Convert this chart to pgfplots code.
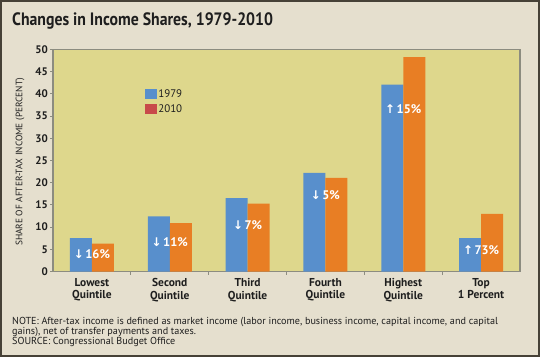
\documentclass[border=0pt]{standalone}
\usepackage{pgfplots}
\pgfplotsset{compat=1.18}
\usepackage{fontspec}
\setmainfont{PT Sans}
\newfontfamily\arrowfont{DejaVu Sans}
\newfontfamily\titlefont[FakeStretch=0.88]{PT Sans}
\definecolor{bgc}{RGB}{229,223,206}
\definecolor{plotc}{RGB}{222,215,140}
\definecolor{bluec}{RGB}{88,143,204}
\definecolor{orangec}{RGB}{232,126,36}
\definecolor{redc}{RGB}{200,74,74}
\definecolor{framec}{RGB}{140,140,128}
\definecolor{textc}{RGB}{30,30,30}
\definecolor{borderc}{RGB}{70,65,55}
\pgfplotstableread{
x y1979 y2010
0 7.5 6.3
1 12.4 10.9
2 16.5 15.3
3 22.2 21.1
4 42.1 48.3
5 7.5 13.0
}\shares
\begin{document}
\begin{tikzpicture}
\useasboundingbox (0bp,0bp) rectangle (540bp,357bp);
\fill[bgc] (0bp,0bp) rectangle (540bp,357bp);
\draw[borderc, line width=2bp] (1bp,1bp) rectangle (539bp,356bp);
\node[anchor=base west, font=\titlefont\bfseries\fontsize{18}{20}\selectfont, text=textc, inner sep=0] at (12bp,331bp) {Changes in Income Shares, 1979-2010};
\begin{axis}[at={(53bp,85.5bp)}, anchor=south west, scale only axis, width=467bp, height=222bp,
  ymin=0, ymax=50, xmin=-0.5, xmax=5.5,
  /pgf/number format/assume math mode=true,
  axis background/.style={fill=plotc},
  axis line style={framec, line width=1.3bp},
  ytick={0,5,...,50}, ytick pos=left, xtick pos=bottom,
  yticklabel={\pgfmathprintnumber{\tick}},
  xtick={0.5,1.5,2.5,3.5,4.5}, xticklabels={},
  extra x ticks={0,1,2,3,4,5},
  extra x tick labels={{Lowest\\Quintile},{Second\\Quintile},{Third\\Quintile},{Fourth\\Quintile},{Highest\\Quintile},{Top\\1 Percent}},
  extra x tick style={xtick style={draw=none}, xticklabel style={font=\bfseries\fontsize{11.5}{13}\selectfont, text=textc, align=center}},
  tick align=outside, major tick length=3bp,
  tick style={framec, line width=0.8bp},
  yticklabel style={font=\bfseries\fontsize{11}{12}\selectfont, text=textc, inner sep=2bp},
  ylabel={SHARE OF AFTER-TAX INCOME (PERCENT)},
  ylabel style={at={(axis description cs:-0.0707,0.494)}, anchor=center, font=\fontsize{9.4}{12}\selectfont, text=textc},
  legend style={at={(axis description cs:0.19,0.84)}, anchor=north west, draw=none, fill=none, font=\fontsize{11}{12}\selectfont, text=textc, row sep=2bp},
  legend cell align=left,
]
\addplot[ybar, bar width=22bp, bar shift=-11bp, fill=bluec, draw=none, forget plot] table[x=x, y=y1979] {\shares};
\addplot[ybar, bar width=22bp, bar shift=11bp, fill=orangec, draw=none, forget plot] table[x=x, y=y2010] {\shares};
\addlegendimage{legend image code/.code={\fill[bluec] (0bp,-4.5bp) rectangle (11bp,4.5bp);}}
\addlegendentry{1979}
\addlegendimage{legend image code/.code={\fill[redc] (0bp,-4.5bp) rectangle (11bp,4.5bp);}}
\addlegendentry{2010}
\tikzset{lab/.style={text=white, font=\bfseries\fontsize{12.5}{14}\selectfont, inner sep=0}}
\node[lab] at (axis cs:0,3.8) {{\arrowfont\bfseries\fontsize{12}{13}\selectfont ↓}\kern1.5bp16\%};
\node[lab] at (axis cs:1,6.6) {{\arrowfont\bfseries\fontsize{12}{13}\selectfont ↓}\kern1.5bp11\%};
\node[lab] at (axis cs:2,10.5) {{\arrowfont\bfseries\fontsize{12}{13}\selectfont ↓}\kern1.5bp7\%};
\node[lab] at (axis cs:3,17.3) {{\arrowfont\bfseries\fontsize{12}{13}\selectfont ↓}\kern1.5bp5\%};
\node[lab] at (axis cs:4,36.6) {{\arrowfont\bfseries\fontsize{12}{13}\selectfont ↑}\kern1.5bp15\%};
\node[lab] at (axis cs:5,4.7) {{\arrowfont\bfseries\fontsize{12}{13}\selectfont ↑}\kern1.5bp73\%};
\end{axis}
\node[anchor=base west, font=\fontsize{10.2}{10}\selectfont, text=textc, inner sep=0] at (12bp,33bp) {NOTE: After-tax income is defined as market income (labor income, business income, capital income, and capital};
\node[anchor=base west, font=\fontsize{10.2}{10}\selectfont, text=textc, inner sep=0] at (12bp,23bp) {gains), net of transfer payments and taxes.};
\node[anchor=base west, font=\fontsize{10.2}{10}\selectfont, text=textc, inner sep=0] at (12bp,13bp) {SOURCE: Congressional Budget Office};
\end{tikzpicture}
\end{document}
